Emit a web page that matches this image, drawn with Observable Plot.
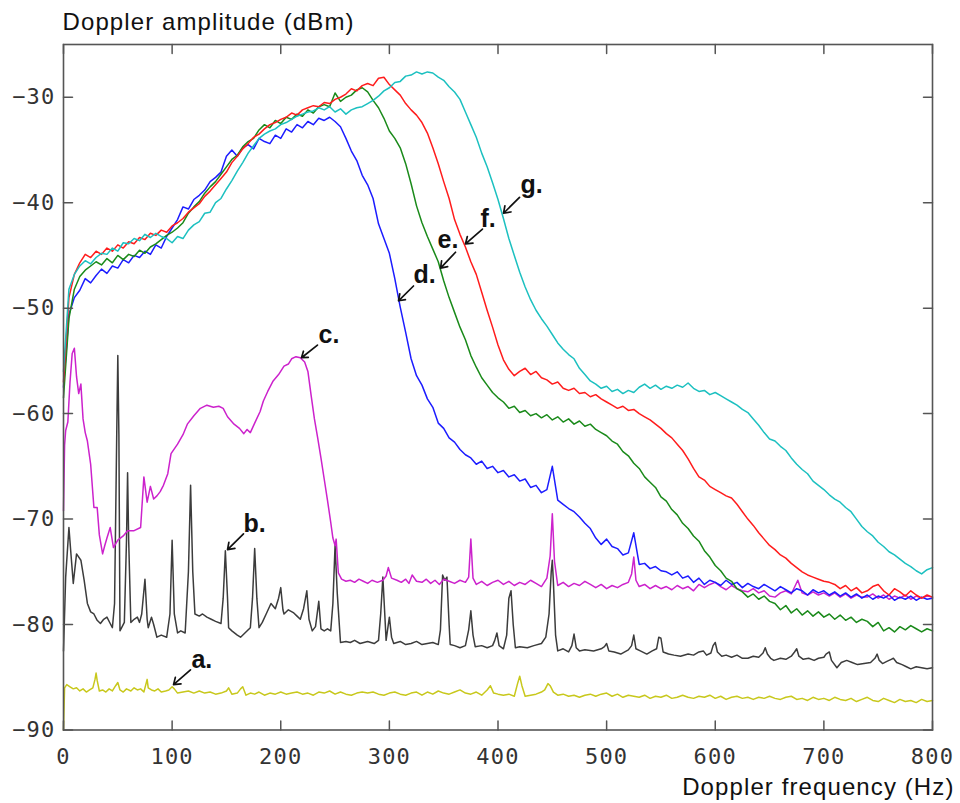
<!DOCTYPE html>
<html><head><meta charset="utf-8">
<script src="https://cdn.jsdelivr.net/npm/d3@7"></script>
<script src="https://cdn.jsdelivr.net/npm/@observablehq/plot@0.6"></script>
<style>body{margin:0;background:#fff}</style>
</head><body><div id="chart"></div>
<script>
// frequency grid (Hz) for the four broad spectra d–g
const freqGrid = d3.range(0, 801, 5);

// d. (blue)
const spectrumD = [
-57.5,-50.6,-49.0,-48.3,-47.2,-47.6,-46.9,-46.3,-46.7,-46.0,
-46.2,-45.4,-45.7,-45.0,-45.2,-44.6,-44.9,-44.0,-44.3,-43.2,
-42.4,-41.6,-40.4,-40.6,-39.7,-39.3,-38.8,-38.0,-37.6,-37.1,
-35.6,-35.0,-35.6,-34.8,-34.5,-34.9,-33.9,-34.2,-34.4,-33.6,
-33.9,-33.0,-33.3,-32.6,-32.9,-32.3,-32.6,-32.0,-32.2,-31.9,
-32.3,-32.8,-33.9,-35.1,-36.0,-37.4,-38.3,-39.6,-42.0,-43.4,
-44.8,-47.2,-49.9,-52.3,-54.8,-56.4,-57.3,-58.6,-59.4,-60.9,
-61.4,-62.3,-62.7,-63.4,-63.9,-64.2,-64.8,-64.5,-65.2,-65.0,
-65.6,-65.4,-66.0,-65.8,-66.4,-66.2,-67.0,-66.8,-67.5,-67.2,
-65.0,-68.2,-68.6,-69.0,-69.3,-69.8,-70.4,-70.9,-71.8,-72.4,
-71.9,-72.6,-72.8,-73.4,-73.2,-71.3,-74.3,-74.2,-74.7,-74.5,
-74.9,-75.0,-75.3,-75.0,-75.6,-75.4,-76.0,-75.6,-76.2,-75.8,
-76.0,-76.3,-75.8,-76.2,-76.0,-76.5,-76.1,-76.4,-76.6,-76.2,
-76.5,-76.8,-76.4,-76.7,-77.0,-76.6,-76.8,-77.2,-76.7,-77.0,
-76.8,-77.2,-76.9,-77.3,-77.0,-77.4,-77.1,-77.5,-77.2,-77.6,
-77.3,-77.5,-77.2,-77.7,-77.4,-77.6,-77.3,-77.7,-77.4,-77.6,
-77.5];

// e. (green)
const spectrumE = [
-58.5,-51.0,-48.2,-47.0,-46.4,-46.0,-45.6,-45.9,-45.3,-45.7,
-45.0,-45.4,-44.9,-45.1,-44.5,-44.8,-44.2,-43.9,-43.5,-43.1,
-42.8,-42.4,-41.9,-41.0,-40.4,-39.9,-39.1,-38.5,-38.0,-37.3,
-36.6,-35.9,-35.5,-34.7,-34.2,-33.9,-33.1,-32.6,-32.9,-32.2,
-32.5,-31.9,-32.1,-31.6,-31.8,-31.2,-31.5,-30.9,-30.7,-30.9,
-29.6,-30.4,-30.0,-29.8,-29.3,-29.1,-29.5,-30.3,-31.0,-32.0,
-33.2,-33.9,-34.8,-36.3,-38.2,-40.3,-41.9,-43.2,-44.4,-45.6,
-47.4,-49.0,-50.4,-51.8,-53.0,-54.5,-55.6,-56.6,-57.3,-58.0,
-58.5,-58.9,-59.5,-59.3,-59.9,-59.7,-60.2,-60.0,-60.4,-60.1,
-60.6,-60.3,-60.8,-60.5,-61.0,-60.7,-61.2,-61.0,-61.5,-61.8,
-62.1,-62.6,-62.9,-63.6,-64.0,-64.7,-65.2,-66.0,-66.5,-67.0,
-67.9,-68.3,-69.1,-69.6,-70.4,-70.9,-71.6,-72.1,-73.0,-73.6,
-74.4,-74.9,-75.6,-75.9,-76.6,-76.9,-77.4,-77.1,-77.6,-77.3,
-77.8,-78.0,-78.6,-78.2,-78.9,-78.5,-79.1,-78.7,-79.2,-78.8,
-79.3,-79.0,-79.5,-79.1,-79.6,-79.3,-79.8,-79.5,-79.7,-80.2,
-79.8,-80.6,-80.3,-80.7,-80.2,-80.5,-80.1,-80.4,-80.7,-80.4,
-80.6];

// f. (red)
const spectrumF = [
-57.0,-49.0,-46.8,-45.7,-44.9,-45.2,-44.6,-44.9,-44.3,-44.6,
-44.0,-44.3,-43.7,-43.9,-43.3,-43.5,-42.9,-43.1,-42.6,-42.8,
-42.2,-41.9,-41.5,-40.9,-40.5,-40.1,-39.4,-38.9,-38.3,-37.7,
-37.1,-36.2,-35.6,-34.9,-34.4,-33.8,-33.5,-33.0,-32.6,-32.4,
-32.1,-31.9,-31.5,-31.7,-31.2,-31.0,-30.8,-30.9,-30.5,-30.6,
-30.2,-30.0,-29.7,-29.2,-29.4,-28.9,-28.7,-28.9,-28.2,-28.1,
-28.8,-29.3,-29.8,-30.6,-31.2,-31.7,-32.4,-33.4,-34.8,-36.3,
-38.0,-39.6,-41.6,-43.0,-44.2,-45.6,-46.8,-48.5,-50.2,-51.8,
-53.5,-54.9,-55.8,-56.4,-56.0,-55.7,-56.3,-56.0,-56.6,-56.8,
-57.2,-57.0,-57.6,-57.8,-57.6,-58.1,-58.0,-58.4,-58.2,-58.6,
-58.9,-59.2,-59.5,-59.3,-59.7,-59.6,-60.0,-60.3,-60.6,-61.0,
-61.4,-61.9,-62.3,-62.9,-63.5,-64.3,-65.2,-66.0,-66.3,-66.9,
-67.2,-67.5,-67.8,-68.0,-68.6,-69.3,-70.0,-70.6,-71.3,-71.9,
-72.5,-72.9,-73.4,-73.7,-74.2,-74.6,-75.0,-75.3,-75.5,-75.7,
-75.9,-76.0,-76.2,-76.6,-76.3,-76.8,-76.5,-77.0,-76.8,-76.4,
-76.2,-76.8,-77.2,-76.6,-76.9,-77.3,-76.8,-77.2,-77.5,-77.2,
-77.4];

// g. (cyan)
const spectrumG = [
-56.0,-48.2,-46.8,-46.0,-45.5,-45.8,-45.2,-44.8,-44.9,-44.3,
-44.6,-43.8,-43.9,-43.4,-43.6,-43.0,-43.3,-42.9,-43.2,-43.4,
-43.8,-43.2,-43.4,-42.6,-42.1,-41.8,-41.0,-40.9,-40.0,-39.6,
-38.7,-37.9,-37.0,-36.2,-35.3,-34.6,-33.9,-33.5,-33.2,-33.0,
-32.6,-32.4,-32.1,-31.8,-31.6,-31.4,-31.3,-31.0,-31.2,-30.9,
-31.4,-31.1,-31.6,-31.2,-31.0,-30.9,-30.6,-30.3,-29.9,-29.4,
-29.1,-28.6,-28.5,-28.0,-27.9,-27.6,-27.8,-27.6,-27.7,-28.1,
-28.4,-29.0,-29.5,-30.2,-31.4,-32.6,-33.8,-35.3,-36.6,-38.1,
-39.7,-41.5,-43.4,-45.0,-46.6,-48.0,-49.2,-50.2,-51.0,-51.7,
-52.5,-53.3,-53.9,-54.4,-54.8,-55.7,-56.3,-56.9,-57.2,-57.6,
-57.4,-57.9,-57.7,-58.1,-57.8,-58.0,-57.5,-57.2,-57.6,-57.3,
-57.7,-57.4,-57.6,-57.3,-57.5,-57.1,-57.6,-57.9,-57.8,-58.2,
-58.0,-58.3,-58.6,-58.9,-59.2,-59.6,-59.9,-60.5,-61.1,-61.8,
-62.4,-62.6,-63.1,-63.5,-64.2,-64.8,-65.3,-65.7,-66.4,-66.8,
-67.2,-67.7,-68.1,-68.4,-68.9,-69.3,-70.0,-70.7,-71.2,-71.6,
-72.2,-72.6,-73.1,-73.4,-73.8,-74.2,-74.5,-74.9,-75.2,-74.8,
-74.6];

// c. (magenta) [Hz, dBm]
const spectrumC = [
[0,-69.2],[1,-63],[2,-61.6],[4,-60.8],[6,-57],[8,-54.3],[10,-53.8],[12,-56.5],[14,-58.1],[16,-57.2],
[18,-60.5],[20,-61.8],[22,-62.6],[25,-64.8],[28,-68.9],[31,-68.9],[33,-71.5],[36,-73.3],[38,-72.5],[40,-71.8],
[43,-70.8],[46,-72.7],[50,-72.0],[55,-71.6],[59,-71.1],[65,-71.1],[71,-70.8],[74,-66.0],[77,-68.4],[80,-66.9],
[83,-68.1],[86,-67.8],[89,-67.4],[92,-66.8],[96,-65.7],[99,-63.8],[105,-62.9],[110,-62.0],[114,-61.0],[120,-60.2],
[126,-59.5],[132,-59.2],[138,-59.4],[143,-59.3],[147,-59.5],[151,-60.3],[157,-61.0],[162,-61.4],[166,-61.9],[169,-61.5],
[172,-61.8],[176,-60.9],[181,-59.8],[184,-58.8],[188,-57.9],[193,-56.9],[198,-56.3],[203,-55.5],[207,-55.3],[210,-54.8],
[214,-54.6],[218,-54.7],[222,-55.1],[225,-56.0],[228,-58.3],[231,-60.5],[234,-62.3],[237,-64.2],[240,-66.2],[243,-68.2],
[246,-70.3],[248,-71.8],[250,-72.5],[251,-71.9],[253,-75.1],[256,-75.7],[260,-75.9],[264,-75.8],[268,-76.0],[272,-75.7],
[276,-75.9],[280,-76.1],[284,-75.8],[289,-76.0],[294,-75.8],[297,-75.4],[299,-74.6],[302,-75.6],[307,-75.8],[311,-76.0],
[315,-75.7],[318,-76.1],[321,-75.3],[325,-75.9],[330,-76.0],[334,-75.7],[338,-76.1],[342,-75.8],[346,-76.2],[350,-75.7],
[355,-75.9],[360,-76.1],[365,-75.8],[370,-76.0],[373,-75.5],[375,-71.9],[377,-75.6],[380,-76.2],[385,-75.9],[390,-76.3],
[395,-76.0],[400,-75.8],[405,-76.2],[410,-75.9],[415,-76.3],[420,-76.0],[425,-76.2],[430,-75.8],[435,-76.1],[440,-76.4],
[445,-75.6],[448,-73.5],[450,-69.5],[452,-74.0],[455,-76.3],[460,-76.0],[465,-76.4],[470,-76.1],[475,-76.3],[480,-75.9],
[485,-76.2],[490,-76.5],[495,-76.2],[500,-76.6],[505,-76.3],[510,-76.5],[515,-76.2],[520,-76.0],[523,-75.2],[525,-73.6],
[527,-75.8],[530,-76.4],[535,-76.2],[540,-76.6],[545,-76.3],[550,-76.6],[555,-76.4],[560,-76.7],[565,-76.3],[570,-76.6],
[575,-76.4],[580,-76.8],[585,-76.2],[590,-76.5],[595,-76.2],[600,-76.0],[605,-76.4],[610,-76.7],[615,-76.3],[620,-76.6],
[625,-76.8],[630,-76.9],[635,-76.6],[640,-77.0],[645,-76.8],[650,-77.3],[655,-77.4],[660,-77.0],[665,-76.8],[670,-77.1],
[676,-75.8],[680,-77.0],[685,-77.2],[690,-76.9],[695,-77.2],[700,-77.0],[705,-77.3],[710,-77.0],[715,-77.4],[720,-77.1],
[725,-77.5],[730,-77.2],[735,-77.4],[740,-77.4],[745,-77.1],[750,-77.5],[755,-77.2],[760,-77.6],[765,-77.3],[770,-77.5],
[775,-77.2],[780,-77.6],[785,-77.3],[790,-77.5],[795,-77.3],[800,-77.4]];

// b. (dark grey) [Hz, dBm]
const spectrumB = [
[0,-82.5],[2,-75.5],[5,-70.8],[7,-73.5],[9,-76.1],[12,-73.3],[16,-73.9],[19,-75.8],[22,-78.0],[25,-78.8],
[28,-79.0],[31,-79.6],[34,-79.9],[37,-79.5],[40,-79.3],[43,-79.9],[45,-80.3],[47,-78.0],[49,-62.0],[50,-54.5],
[51,-62.0],[52,-80.6],[54,-80.2],[56,-79.8],[58,-72.0],[59,-65.6],[60,-72.0],[62,-79.8],[65,-79.5],[68,-79.3],
[70,-79.8],[72,-79.0],[75,-75.7],[77,-79.5],[78,-80.3],[81,-79.3],[83,-80.0],[86,-81.2],[90,-81.0],[95,-81.2],
[98,-79.0],[100,-72.0],[102,-79.0],[105,-80.8],[108,-80.6],[112,-80.8],[115,-75.0],[117,-66.8],[119,-75.0],[121,-79.0],
[125,-79.2],[128,-79.0],[132,-79.3],[136,-79.5],[140,-79.7],[145,-79.9],[147,-77.5],[149,-73.0],[151,-77.5],[152,-80.3],
[155,-80.6],[160,-81.0],[163,-81.2],[167,-80.8],[172,-80.3],[174,-77.5],[176,-72.8],[178,-77.5],[180,-80.3],[183,-79.8],
[187,-78.9],[191,-78.0],[195,-78.5],[198,-77.5],[200,-76.5],[202,-78.6],[203,-79.0],[207,-78.6],[212,-78.9],[215,-79.2],
[218,-79.5],[221,-78.5],[224,-76.8],[226,-79.5],[229,-80.6],[232,-80.2],[235,-77.8],[237,-80.4],[240,-80.6],[243,-80.4],
[246,-80.6],[248,-78.0],[250,-72.5],[252,-77.0],[255,-81.7],[260,-81.6],[264,-81.7],[268,-81.5],[273,-81.8],[280,-81.6],
[286,-81.8],[290,-81.5],[292,-79.0],[294,-75.5],[296,-79.5],[297,-81.5],[299,-80.0],[300,-79.3],[302,-81.2],[304,-81.8],
[310,-81.6],[315,-81.9],[320,-81.8],[325,-81.6],[330,-81.9],[335,-81.8],[340,-81.7],[345,-81.9],[347,-80.5],[349,-75.3],
[351,-75.8],[353,-75.5],[355,-80.0],[356,-81.9],[360,-82.0],[365,-82.2],[370,-82.0],[373,-80.5],[375,-78.7],[377,-81.0],
[379,-82.1],[385,-82.0],[390,-82.2],[395,-82.0],[397,-81.5],[399,-80.8],[401,-82.0],[405,-82.3],[408,-81.0],[410,-77.5],
[412,-76.8],[414,-80.0],[416,-82.2],[420,-82.1],[427,-82.2],[433,-82.0],[440,-81.8],[444,-81.2],[447,-79.0],[449,-75.0],
[450,-73.9],[451,-76.0],[453,-81.0],[455,-82.5],[460,-82.3],[465,-82.6],[468,-82.0],[470,-80.9],[472,-82.2],[475,-82.5],
[480,-82.4],[488,-82.5],[495,-82.3],[498,-82.1],[500,-81.8],[502,-82.5],[507,-82.6],[513,-82.8],[520,-82.4],[523,-82.0],
[525,-81.0],[527,-82.3],[531,-82.5],[537,-82.8],[542,-82.5],[546,-82.3],[548,-81.2],[550,-81.3],[552,-82.6],[557,-82.8],
[562,-82.9],[568,-83.0],[575,-82.8],[580,-82.9],[585,-82.6],[589,-82.5],[592,-82.9],[596,-82.7],[598,-82.0],[600,-81.7],
[602,-82.6],[606,-83.0],[610,-82.9],[615,-83.1],[620,-82.9],[625,-83.2],[630,-83.2],[635,-83.0],[640,-83.1],[644,-82.7],
[646,-82.2],[648,-82.8],[651,-83.2],[654,-83.4],[660,-83.2],[665,-83.3],[670,-83.0],[673,-82.6],[675,-82.3],[677,-83.0],
[681,-83.3],[686,-83.2],[691,-83.4],[695,-83.2],[700,-83.1],[702,-82.8],[705,-82.6],[707,-83.4],[712,-84.1],[716,-83.6],
[721,-83.4],[726,-83.6],[731,-83.8],[737,-83.7],[743,-83.6],[747,-83.2],[749,-82.8],[751,-83.4],[754,-83.7],[758,-83.5],
[762,-83.3],[764,-83.2],[767,-83.6],[772,-83.8],[776,-84.0],[780,-84.2],[785,-84.0],[790,-84.1],[795,-84.2],[800,-84.1]];

// a. (yellow) [Hz, dBm]
const spectrumA = [
[0,-90],[1,-86.0],[3,-85.7],[6,-85.9],[9,-86.1],[12,-86.0],[15,-86.3],[18,-86.1],[21,-86.4],[24,-86.2],
[27,-86.0],[29,-85.2],[30,-84.6],[31,-85.3],[33,-86.3],[36,-86.2],[39,-86.4],[42,-86.1],[45,-86.3],[48,-85.8],
[50,-85.5],[52,-86.2],[55,-86.4],[58,-86.1],[62,-86.3],[65,-86.0],[68,-86.2],[71,-86.1],[74,-86.4],[76,-85.6],
[77,-85.2],[78,-86.0],[81,-86.2],[84,-86.3],[87,-86.1],[90,-86.4],[94,-86.3],[97,-86.2],[100,-85.9],[102,-86.1],
[105,-86.5],[110,-86.4],[115,-86.3],[120,-86.5],[125,-86.3],[130,-86.5],[135,-86.4],[140,-86.6],[145,-86.5],[150,-86.3],
[152,-86.0],[155,-86.6],[160,-86.5],[163,-86.1],[165,-85.9],[168,-86.7],[172,-86.5],[176,-86.6],[180,-86.4],[185,-86.7],
[190,-86.5],[195,-86.6],[200,-86.4],[205,-86.6],[210,-86.5],[215,-86.4],[220,-86.6],[225,-86.5],[230,-86.7],[235,-86.4],
[240,-86.5],[245,-86.3],[250,-86.6],[255,-86.4],[260,-86.6],[265,-86.7],[270,-86.5],[275,-86.4],[280,-86.5],[285,-86.4],
[290,-86.6],[295,-86.7],[300,-86.5],[305,-86.4],[310,-86.6],[315,-86.7],[320,-86.5],[325,-86.4],[330,-86.7],[335,-86.4],
[340,-86.6],[345,-86.3],[350,-86.5],[355,-86.6],[360,-86.4],[365,-86.2],[370,-86.5],[375,-86.6],[380,-86.4],[385,-86.7],
[390,-86.2],[393,-85.8],[396,-86.5],[400,-86.6],[405,-86.7],[410,-86.6],[415,-86.8],[418,-85.6],[420,-84.9],[422,-85.8],
[425,-86.8],[430,-86.7],[435,-86.6],[440,-86.4],[443,-86.2],[446,-85.6],[448,-85.8],[451,-86.4],[455,-86.7],[460,-86.6],
[465,-86.8],[470,-86.7],[475,-86.9],[480,-86.7],[485,-86.6],[490,-86.8],[495,-86.6],[500,-86.5],[505,-86.8],[510,-86.6],
[515,-86.9],[520,-86.7],[525,-86.8],[530,-86.9],[535,-86.7],[540,-87.0],[545,-86.8],[550,-86.9],[555,-86.7],[560,-87.0],
[565,-86.9],[570,-86.7],[575,-86.9],[580,-87.0],[585,-86.8],[590,-86.9],[595,-86.7],[600,-87.0],[605,-86.8],[610,-87.1],
[615,-86.9],[620,-86.8],[625,-87.0],[630,-86.9],[635,-87.1],[640,-86.9],[645,-87.0],[650,-86.8],[655,-87.0],[660,-87.1],
[665,-86.9],[670,-86.8],[675,-87.1],[680,-87.0],[685,-87.2],[690,-86.9],[695,-87.1],[700,-87.0],[705,-87.2],[710,-86.9],
[715,-87.1],[720,-87.2],[725,-87.0],[730,-87.3],[735,-87.1],[740,-86.9],[745,-87.2],[750,-87.3],[755,-87.0],[760,-87.2],
[765,-87.4],[770,-87.1],[775,-87.3],[780,-87.2],[785,-87.4],[790,-87.1],[795,-87.3],[800,-87.2]];

// tick values
const xTicks = [0, 100, 200, 300, 400, 500, 600, 700, 800];
const yTicks = [-90, -80, -70, -60, -50, -40, -30];

// annotation letters: [label, Hz, dBm]
const labels = [["a.",117.8,-83.4],["b.",165.7,-70.5],["c.",234.8,-52.5],["d.",322.2,-46.9],["e.",344.3,-43.5],["f.",383.9,-41.5],["g.",420.7,-38.3]];
// annotation arrows: [fromHz, fromdBm, toHz, todBm]
const arrows = [[116.9,-84.3,101.3,-85.7],[165.7,-71.4,151.0,-72.9],[233.8,-53.5,219.1,-54.7],[322.2,-47.9,308.4,-49.3],[360.9,-44.7,347.1,-46.2],[385.7,-42.5,370.1,-43.9],[419.8,-39.5,405.1,-41.0]];

const colors = {a:"#c8c81c", b:"#3c3c3c", c:"#cc22cc", d:"#1c1cff", e:"#1a8a1a", f:"#ff1c1c", g:"#1cc0c0"};

const gridRows = arr => freqGrid.map((f, i) => ({f, v: arr[i]}));
const pairRows = arr => arr.map(([f, v]) => ({f, v}));

const tickShape = {draw(ctx, l) { ctx.moveTo(0, 0); ctx.lineTo(0, -l); }};
const frameGrey = "#555";

const lineMark = (rows, c) => Plot.line(rows, {x: "f", y: "v", stroke: c, strokeWidth: 1.5});

const svg = Plot.plot({
  width: 960, height: 803,
  marginTop: 44, marginLeft: 63, marginRight: 28, marginBottom: 73.5,
  x: {domain: [0, 800]},
  y: {domain: [-90, -25]},
  style: {background: "#fff"},
  marks: [
    lineMark(pairRows(spectrumA), colors.a),
    lineMark(pairRows(spectrumB), colors.b),
    lineMark(pairRows(spectrumC), colors.c),
    lineMark(gridRows(spectrumD), colors.d),
    lineMark(gridRows(spectrumE), colors.e),
    lineMark(gridRows(spectrumF), colors.f),
    lineMark(gridRows(spectrumG), colors.g),
    Plot.frame({stroke: frameGrey, strokeWidth: 1.6}),
    Plot.vector(xTicks, {x: d => d, y: -90, length: 9, anchor: "start", shape: tickShape, stroke: frameGrey, strokeWidth: 1.5}),
    Plot.vector(xTicks, {x: d => d, y: -25, length: 9, rotate: 180, anchor: "start", shape: tickShape, stroke: frameGrey, strokeWidth: 1.5}),
    Plot.vector(yTicks, {x: 0, y: d => d, length: 9, rotate: 90, anchor: "start", shape: tickShape, stroke: frameGrey, strokeWidth: 1.5}),
    Plot.vector(yTicks, {x: 800, y: d => d, length: 9, rotate: -90, anchor: "start", shape: tickShape, stroke: frameGrey, strokeWidth: 1.5}),
    Plot.axisX({ticks: xTicks, tickSize: 0, tickPadding: 18, fontSize: 22, fontFamily: "DejaVu Sans Mono", fill: "#333", label: null}),
    Plot.axisY({ticks: yTicks, tickSize: 0, tickPadding: 8, fontSize: 22, fontFamily: "DejaVu Sans Mono", fill: "#333", label: null}),
    Plot.arrow(arrows, {x1: d => d[0], y1: d => d[1], x2: d => d[2], y2: d => d[3], stroke: "#111", strokeWidth: 1.7, headLength: 8, headAngle: 70}),
    Plot.text(labels, {x: d => d[1], y: d => d[2], text: d => d[0], textAnchor: "start", lineAnchor: "middle", fontSize: 25, fontWeight: "bold", fontFamily: "Liberation Sans", fill: "#111"}),
    Plot.text(["Doppler amplitude (dBm)"], {frameAnchor: "top-left", textAnchor: "start", lineAnchor: "middle", dx: -1, dy: -21.7, fontSize: 24, fontFamily: "Liberation Sans", fill: "#111"}),
    Plot.text(["Doppler frequency (Hz)"], {frameAnchor: "bottom-right", textAnchor: "end", lineAnchor: "middle", dx: 22, dy: 57.8, fontSize: 24, fontFamily: "Liberation Sans", fill: "#111"})
  ]
});

d3.select(svg).selectAll("text").each(function() {
  const t = this.textContent;
  if (t === "Doppler amplitude (dBm)" || t === "Doppler frequency (Hz)") this.setAttribute("letter-spacing", "1.1");
  else if (/^[−\-]?\d+$/.test(t)) this.setAttribute("letter-spacing", "1.2");
});
document.getElementById("chart").appendChild(svg);
</script>
</body></html>
